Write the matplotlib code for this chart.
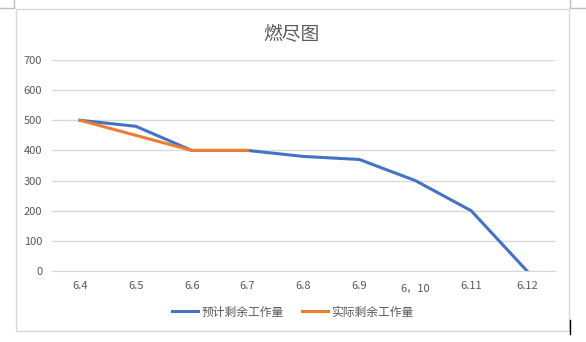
import matplotlib
matplotlib.use("Agg")
import matplotlib.pyplot as plt
import matplotlib.transforms as mtransforms
from matplotlib.patches import Rectangle
from matplotlib.lines import Line2D

plt.rcParams['font.family'] = ['Noto Sans CJK SC', 'DejaVu Sans']

dates = ["6.4", "6.5", "6.6", "6.7", "6.8", "6.9", "6，10", "6.11", "6.12"]
planned = [500, 480, 400, 400, 380, 370, 300, 200, 0]
actual = [500, 450, 400, 400]
y_ticks = [0, 100, 200, 300, 400, 500, 600, 700]

text_color = "#595959"
grid_color = "#D9D9D9"

fig = plt.figure(figsize=(5.86, 3.42), dpi=100)
W, H = 586, 342

# chart frame and page crop marks
fig.patches.append(Rectangle((15.5 / W, 1 - 331 / H), (569 - 15.5) / W, (331 - 9) / H,
                             transform=fig.transFigure, fill=False,
                             edgecolor=grid_color, linewidth=1))
for xs, ys, c in [([0, 14], [8, 8], "#BFBFBF"), ([14, 14], [0, 8], "#BFBFBF"),
                  ([570, 586], [8, 8], "#BFBFBF"), ([570, 570], [0, 8], "#BFBFBF"),
                  ([569.5, 569.5], [320, 334], "black")]:
    fig.lines.append(Line2D([x / W for x in xs], [1 - y / H for y in ys],
                            transform=fig.transFigure, color=c, linewidth=1))

ax = fig.add_axes([52 / W, 1 - 271 / H, (555 - 52) / W, (271 - 60) / H])
x = list(range(len(dates)))
ax.plot(x, planned, color="#4472C4", linewidth=2.2, label="预计剩余工作量",
        solid_joinstyle="round", zorder=3)
ax.plot(x[:len(actual)], actual, color="#ED7D31", linewidth=2.2, label="实际剩余工作量",
        solid_joinstyle="round", zorder=4)

ax.set_xlim(-0.5, len(dates) - 0.5)
ax.set_ylim(0, 700)
ax.set_yticks(y_ticks)
ax.set_xticks(x)
ax.set_xticklabels(dates)
ax.grid(axis="y", color=grid_color, linewidth=1)
ax.set_axisbelow(True)
for s in ["top", "right", "left"]:
    ax.spines[s].set_visible(False)
ax.spines["bottom"].set_color(grid_color)
ax.tick_params(length=0, labelsize=8, labelcolor=text_color)
ax.tick_params(axis="x", pad=7)
ax.tick_params(axis="y", pad=7)

# the "6，10" label sits a little lower than the others
lab = ax.get_xticklabels()[6]
lab.set_transform(lab.get_transform() +
                  mtransforms.ScaledTranslation(0, -2 / 72, fig.dpi_scale_trans))

fig.text(291 / W, 1 - 35 / H, "燃尽图", ha="center", va="center",
         fontsize=13.5, color=text_color)

fig.legend(loc="center", bbox_to_anchor=(293 / W, 1 - 312 / H), ncol=2,
           frameon=False, fontsize=8.5, labelcolor=text_color,
           handlelength=2.2, handletextpad=0.3, columnspacing=1.5)

fig.savefig("out.png", dpi=100)
